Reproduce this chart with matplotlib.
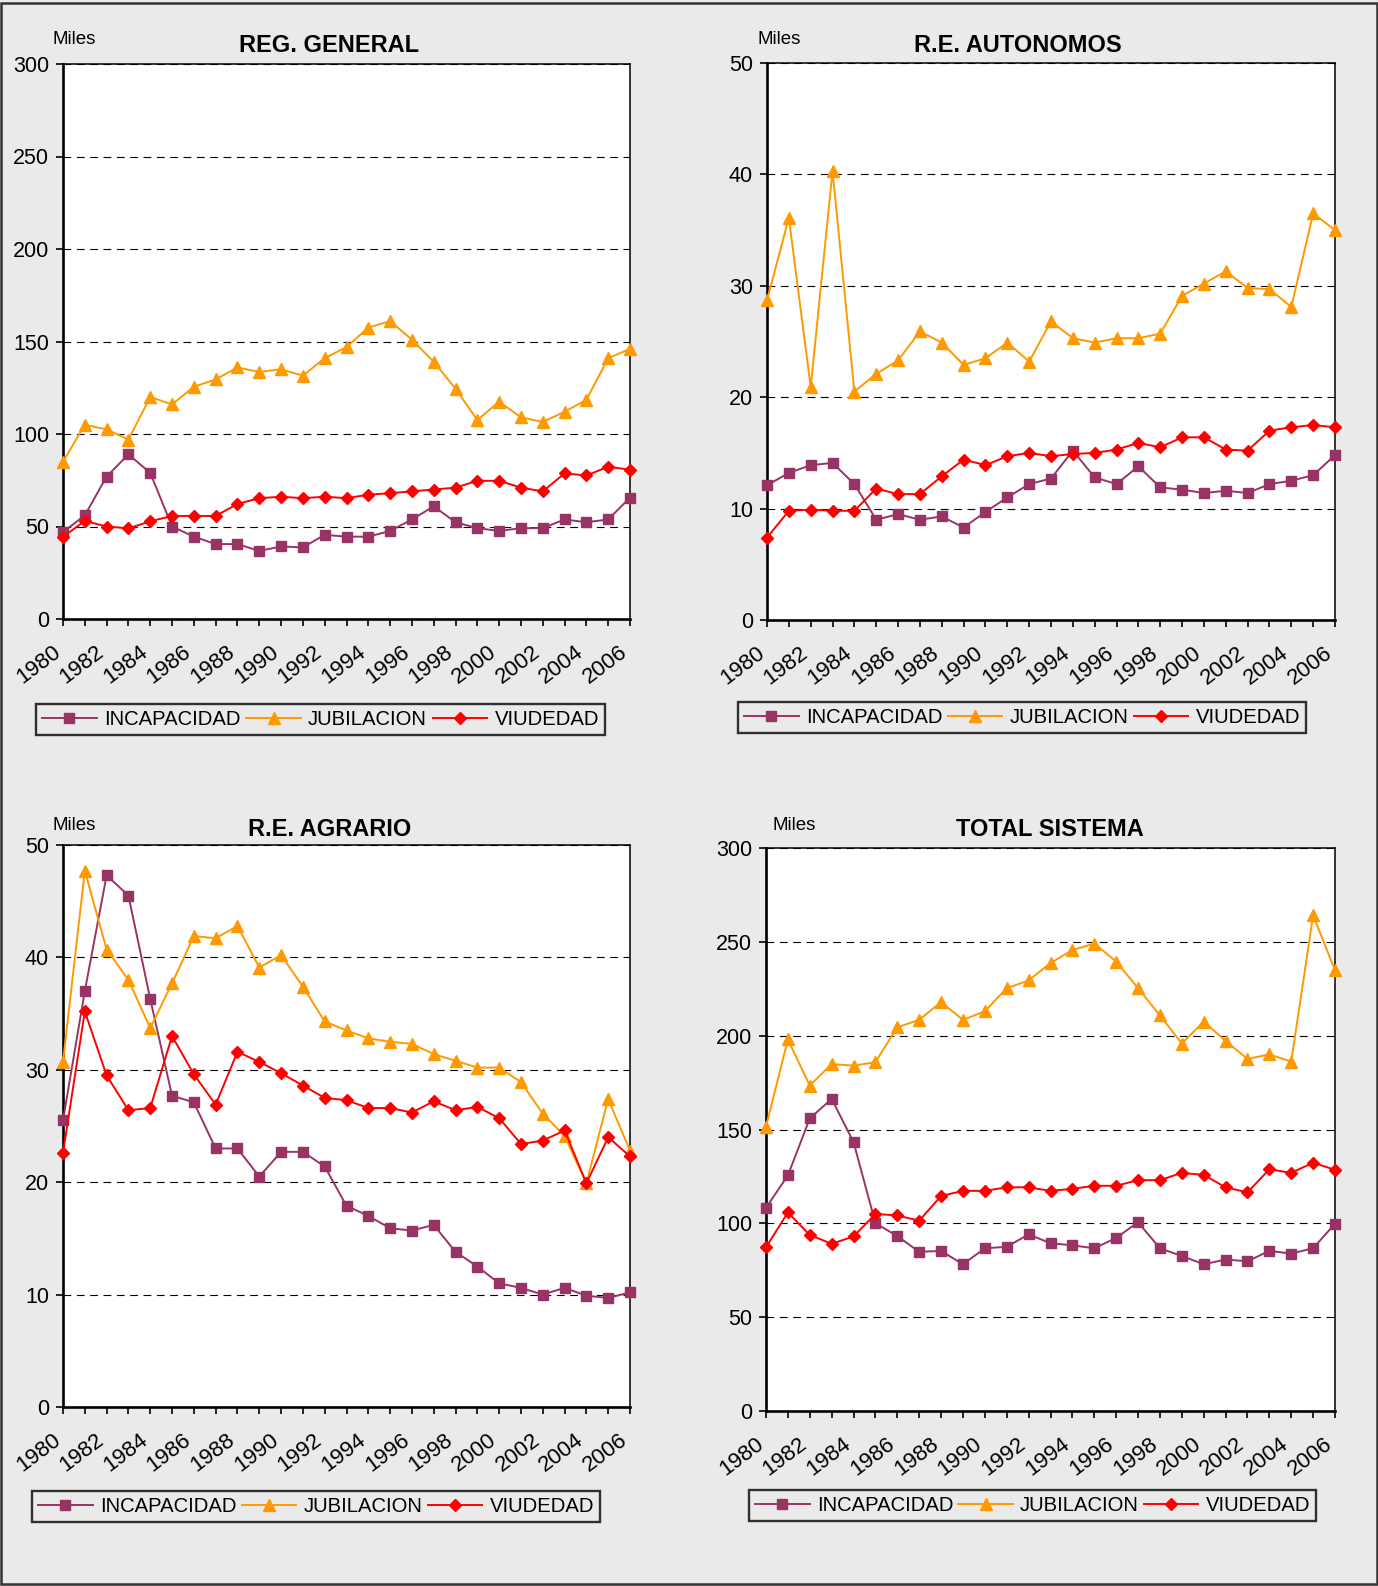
import matplotlib
matplotlib.use('Agg')
import matplotlib.pyplot as plt
import matplotlib.transforms as mtransforms
from matplotlib.patches import Rectangle

plt.rcParams['font.family'] = ['Liberation Sans', 'DejaVu Sans']

years = list(range(1980, 2007))
series_names = ['INCAPACIDAD', 'JUBILACION', 'VIUDEDAD']

reg_incap = [47, 56, 77, 89, 79, 50, 44.5, 40.5, 40.5, 36.8, 39.2, 38.7, 45.5, 44.5, 44.5,
             47.6, 53.8, 60.9, 52.3, 49.1, 47.6, 49.1, 49.1, 53.8, 52.3, 53.8, 65.6]
reg_jubil = [85, 105, 102.5, 97, 120, 116, 125.5, 129.5, 136, 133.5, 135, 131.5, 141, 147, 157.5,
             161, 151, 139, 124.5, 107.5, 117.5, 109, 106.5, 112, 118.5, 141, 146]
reg_viud = [44.4, 53, 50, 49, 52.8, 55.7, 55.7, 55.7, 62.2, 65.3, 66.1, 65.3, 66.1, 65.3, 67.2,
            68, 69, 70, 71, 74.7, 74.7, 71, 69, 78.7, 77.6, 82.3, 80.7]

aut_incap = [12.1, 13.2, 13.9, 14.1, 12.2, 9.0, 9.5, 9.0, 9.3, 8.3, 9.7, 11.0, 12.2, 12.7, 15.2,
             12.8, 12.2, 13.8, 11.9, 11.7, 11.4, 11.6, 11.4, 12.2, 12.5, 13.0, 14.8]
aut_jubil = [28.7, 36.1, 20.9, 40.3, 20.5, 22.1, 23.3, 25.9, 24.9, 22.9, 23.5, 24.9, 23.2, 26.8, 25.3,
             24.9, 25.3, 25.3, 25.7, 29.1, 30.2, 31.3, 29.8, 29.7, 28.1, 36.5, 35.0]
aut_viud = [7.4, 9.8, 9.9, 9.8, 9.8, 11.8, 11.3, 11.3, 12.9, 14.4, 13.9, 14.7, 15.0, 14.7, 14.9,
            15.0, 15.3, 15.9, 15.5, 16.4, 16.4, 15.3, 15.2, 17.0, 17.3, 17.5, 17.3]

agr_incap = [25.5, 37.0, 47.3, 45.5, 36.3, 27.7, 27.1, 23.0, 23.0, 20.5, 22.7, 22.7, 21.4, 17.9, 17.0,
             15.9, 15.7, 16.2, 13.8, 12.5, 11.0, 10.6, 10.0, 10.6, 9.9, 9.7, 10.2]
agr_jubil = [30.7, 47.7, 40.7, 38.0, 33.7, 37.7, 41.9, 41.7, 42.8, 39.1, 40.2, 37.4, 34.3, 33.5, 32.8,
             32.5, 32.3, 31.4, 30.8, 30.2, 30.2, 28.9, 26.1, 24.1, 19.9, 27.4, 22.8]
agr_viud = [22.6, 35.2, 29.5, 26.4, 26.6, 33.0, 29.6, 26.9, 31.6, 30.7, 29.7, 28.6, 27.5, 27.3, 26.6,
            26.6, 26.2, 27.2, 26.4, 26.7, 25.7, 23.4, 23.7, 24.6, 19.9, 24.0, 22.3]

tot_incap = [108.3, 125.5, 155.9, 166.3, 143.3, 100.1, 93.2, 84.8, 85.3, 78.2, 86.7, 87.5, 94.1, 89.4, 88.3,
             86.7, 92.2, 100.6, 86.7, 82.6, 78.2, 80.7, 79.8, 85.3, 83.9, 86.7, 99.8]
tot_jubil = [151.5, 198, 173.4, 184.9, 184.0, 185.9, 204.5, 208.4, 217.9, 208.4, 213, 225.3, 229.4, 238.7, 245.6,
             249.1, 239.5, 225.3, 210.8, 195.8, 207.5, 197.2, 187.6, 190, 186.2, 264.1, 234.9]
tot_viud = [87.2, 105.8, 93.8, 89.1, 93.0, 105, 104.2, 101.4, 114.6, 117.3, 117.3, 119.2, 119.2, 117.3, 118.4,
            120, 120, 123, 123, 126.9, 125.8, 119.2, 116.5, 128.8, 126.9, 132.3, 128.5]

W, H = 1378, 1586
fig = plt.figure(figsize=(W / 100, H / 100), dpi=100)
BG = '#EAEAEA'
fig.patch.set_facecolor(BG)
fig.patches.append(Rectangle((0.001, 0.001), 0.998, 0.997, transform=fig.transFigure,
                             fill=False, edgecolor='#333333', linewidth=1.8))

styles = [dict(color='#993366', marker='s', markersize=7),
          dict(color='#FF9900', marker='^', markersize=8.5),
          dict(color='#FF0000', marker='D', markersize=6.2)]

panels = [
    dict(title='REG. GENERAL', data=(reg_incap, reg_jubil, reg_viud), ymax=300, ystep=50,
         rect=(63, 64, 630, 619), title_xy=(329, 45), miles_xy=(53, 40), leg=(36, 701, 605, 738)),
    dict(title='R.E. AUTONOMOS', data=(aut_incap, aut_jubil, aut_viud), ymax=50, ystep=10,
         rect=(767, 63, 1335, 620), title_xy=(1018, 45), miles_xy=(757, 40), leg=(738, 699, 1306, 736)),
    dict(title='R.E. AGRARIO', data=(agr_incap, agr_jubil, agr_viud), ymax=50, ystep=10,
         rect=(63, 845, 630, 1407), title_xy=(330, 829), miles_xy=(53, 825), leg=(32, 1488, 600, 1525)),
    dict(title='TOTAL SISTEMA', data=(tot_incap, tot_jubil, tot_viud), ymax=300, ystep=50,
         rect=(766, 848, 1335, 1411), title_xy=(1050, 829), miles_xy=(773, 825), leg=(749, 1487, 1316, 1524)),
]

for p in panels:
    l, t, r, b = p['rect']
    ax = fig.add_axes([l / W, 1 - b / H, (r - l) / W, (b - t) / H])
    ax.set_facecolor('white')
    handles = []
    for name, vals, st in zip(series_names, p['data'], styles):
        h, = ax.plot(years, vals, color=st['color'], marker=st['marker'], markersize=st['markersize'],
                     markerfacecolor=st['color'], markeredgecolor=st['color'], linewidth=1.4,
                     clip_on=False, zorder=3, label=name)
        handles.append(h)
    ax.set_xlim(1980, 2006)
    ax.set_ylim(0, p['ymax'])
    ax.set_yticks(range(0, p['ymax'] + 1, p['ystep']))
    ax.set_xticks(years)
    ax.set_xticklabels([str(y) if (y - 1980) % 2 == 0 else '' for y in years])
    ax.grid(axis='y', color='black', linestyle=(0, (7, 5)), linewidth=0.8)
    ax.set_axisbelow(True)
    for side in ['left', 'bottom']:
        ax.spines[side].set_linewidth(1.9)
    for side in ['top', 'right']:
        ax.spines[side].set_linewidth(1.1)
    ax.tick_params(axis='both', direction='out', length=5, width=1.2, labelsize=15.5, colors='black')
    ax.tick_params(axis='y', pad=5)
    ax.tick_params(axis='x', pad=17, labelsize=16)
    off = mtransforms.ScaledTranslation(-5 / 100, 0, fig.dpi_scale_trans)
    for lab in ax.get_xticklabels():
        lab.set_rotation(37)
        lab.set_ha('right')
        lab.set_va('center')
        lab.set_rotation_mode('anchor')
        lab.set_transform(lab.get_transform() + off)

    tx, ty = p['title_xy']
    fig.text(tx / W, 1 - ty / H, p['title'], ha='center', va='center', fontsize=17, fontweight='bold')
    mx, my = p['miles_xy']
    fig.text(mx / W, 1 - my / H, 'Miles', ha='left', va='center', fontsize=13.5)

    ll, lt, lr, lb = p['leg']
    leg = fig.legend(handles, series_names, loc='center',
                     bbox_to_anchor=(ll / W, 1 - lb / H, (lr - ll) / W, (lb - lt) / H),
                     bbox_transform=fig.transFigure, ncol=3, mode='expand', frameon=True,
                     fancybox=False, edgecolor='black', facecolor=BG, fontsize=14.6,
                     handlelength=2.7, handletextpad=0.35, borderaxespad=0, borderpad=0.3,
                     columnspacing=0.5)
    leg.get_frame().set_linewidth(1.7)

fig.savefig('out.png', dpi=100, facecolor=BG)
